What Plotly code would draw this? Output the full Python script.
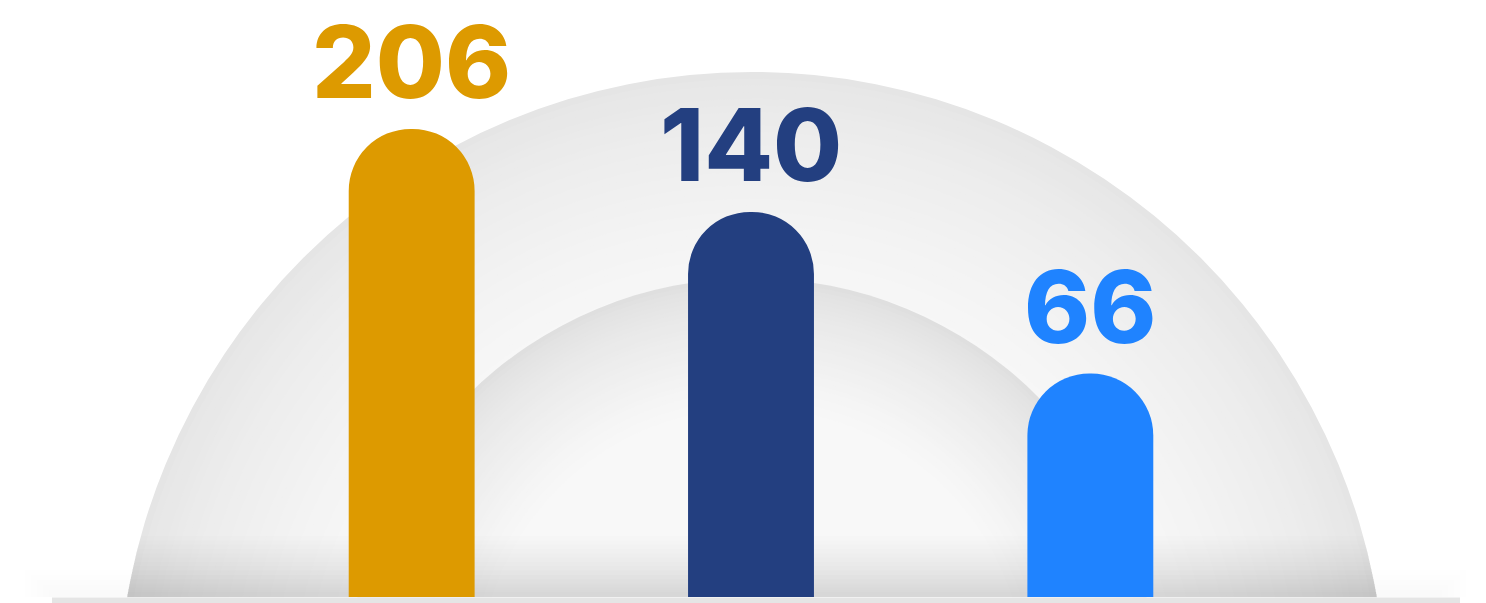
import numpy as np
import plotly.graph_objects as go

# data
categories = ["A", "B", "C"]
values = [206, 140, 66]
bar_colors = ["#DD9A00", "#233F80", "#1F83FF"]
labels = ["206", "140", "66"]

# page has an 8px body margin, so the figure is a bit smaller and shifted
OFF = 8
W, H = 1486 - OFF, 603 - OFF
ML, MR, MT, MB = 234, 226, 0, 6
PW = W - ML - MR
PH = H - MT - MB
FLOOR = 597  # screen y of the bar bottoms


def px(x):
    # screen x -> paper
    return (x - OFF - ML) / PW


def py(y):
    # screen y -> paper
    return (FLOOR - y) / PH


def grey(v):
    v = int(round(v))
    return f"rgb({v},{v},{v})"


shapes = []


def disk(cx, cy, r, c_edge, c_in, depth, n):
    # fake radial gradient with stacked circles
    for i in range(n):
        t = i / (n - 1)
        rr = r - depth * t
        c = c_edge + (c_in - c_edge) * (t ** 0.7)
        shapes.append(dict(type="circle", xref="paper", yref="paper",
                           x0=px(cx - rr), x1=px(cx + rr), y0=py(cy + rr), y1=py(cy - rr),
                           fillcolor=grey(c), line=dict(width=0), layer="below"))


CX = 752
disk(CX, 706.5, 634.5, 229, 250, 260, 40)
disk(CX, 681.5, 403.5, 223, 248, 130, 32)

# bottom shading inside the big disk
r_out, cy_out = 634.5, 706.5
for i in range(14):
    y_top = 536 + i * 4.3
    ys = np.linspace(y_top, FLOOR, 12)
    dx = np.sqrt(r_out ** 2 - (cy_out - ys) ** 2)
    left = [(CX - d, y) for d, y in zip(dx, ys)]
    right = [(CX + d, y) for d, y in zip(dx[::-1], ys[::-1])]
    pts = left + right
    path = "M " + " L ".join(f"{px(x):.5f},{py(y):.5f}" for x, y in pts) + " Z"
    shapes.append(dict(type="path", xref="paper", yref="paper", path=path,
                       fillcolor="rgba(0,0,0,0.009)", line=dict(width=0), layer="below"))

# faint floor shadow outside the disk
for i in range(5):
    shapes.append(dict(type="rect", xref="paper", yref="paper",
                       x0=px(25 + i * 6), x1=px(1466 - i * 6), y0=py(FLOOR), y1=py(570 + i * 5),
                       fillcolor="rgba(0,0,0,0.004)", line=dict(width=0), layer="below"))

# mask below the floor line and the base strip
shapes.append(dict(type="rect", xref="paper", yref="paper",
                   x0=px(-5), x1=px(1500), y0=py(620), y1=py(FLOOR + 0.5),
                   fillcolor="white", line=dict(width=0), layer="below"))
shapes.append(dict(type="rect", xref="paper", yref="paper",
                   x0=px(52), x1=px(1460), y0=py(620), y1=py(FLOOR + 0.5),
                   fillcolor="#e5e5e5", line=dict(width=0), layer="below"))

fig = go.Figure()
fig.add_trace(go.Bar(
    x=categories, y=values,
    marker=dict(color=bar_colors, cornerradius="50%", line=dict(width=0)),
    hoverinfo="skip",
))

annotations = []
for c, v, lab, col in zip(categories, values, labels, bar_colors):
    annotations.append(dict(
        x=c, y=np.log10(v), xref="x", yref="y", text=lab, showarrow=False,
        yanchor="bottom", yshift=5, height=102, valign="bottom",
        font=dict(family="Inter", size=100, color=col, weight=800),
    ))

fig.update_layout(
    width=W, height=H,
    margin=dict(l=ML, r=MR, t=MT, b=MB),
    paper_bgcolor="white",
    plot_bgcolor="rgba(0,0,0,0)",
    showlegend=False,
    bargap=0.629,
    shapes=shapes,
    annotations=annotations,
    xaxis=dict(visible=False, range=[-0.5, 2.5]),
    yaxis=dict(visible=False, type="log", range=[1.368, 1.368 + (FLOOR - OFF) / 494.9]),
)

fig.write_html("out.html")
